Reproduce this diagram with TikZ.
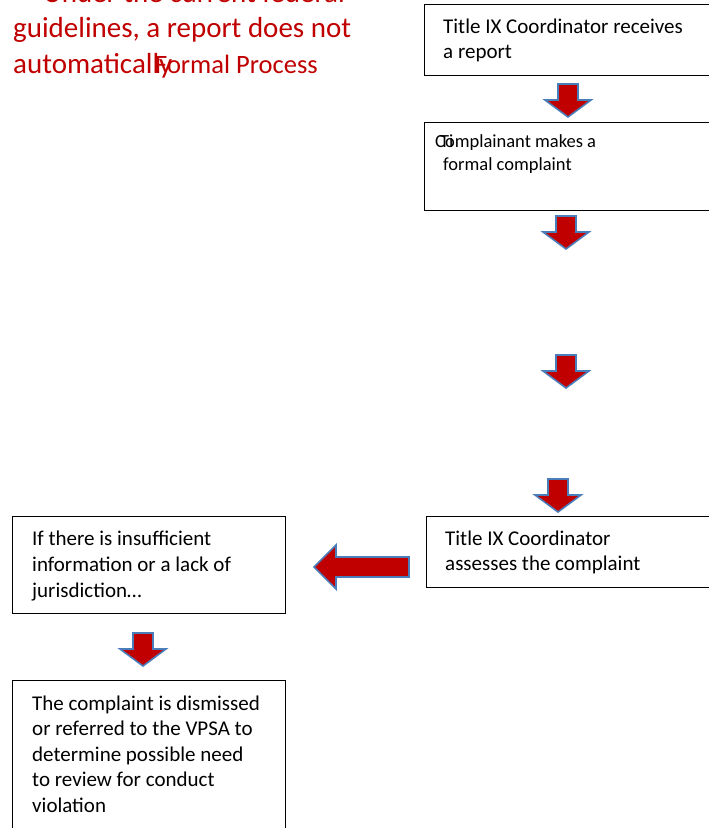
\documentclass[tikz,border=0pt]{standalone}
\usepackage{fontspec}
\setmainfont{Carlito}
\definecolor{tred}{HTML}{C00000}
\definecolor{abord}{HTML}{4A7EBB}
\definecolor{afill}{HTML}{C00000}
\tikzset{
  box/.style={draw=black, line width=1.4pt, fill=white, rectangle, inner sep=0pt, anchor=north west},
  txt/.style={anchor=base west, align=left, inner sep=0pt, font=\fontsize{21}{25}\selectfont},
  txtsmall/.style={anchor=base west, align=left, inner sep=0pt, font=\fontsize{18.5}{23}\selectfont},
  ttl/.style={anchor=base west, inner sep=0pt, text=tred, font=\fontsize{29}{35}\selectfont},
  blockarrow/.style={draw=abord, fill=afill, line width=1.6pt, line join=miter},
  downblock/.pic={\draw[blockarrow] (-10,0) -- (-10,16) -- (-23,16) -- (0,33) -- (23,16) -- (10,16) -- (10,0) -- cycle;},
  leftblock/.pic={\draw[blockarrow] (0,0) -- (22,-22) -- (22,-10) -- (95,-10) -- (95,10) -- (22,10) -- (22,22) -- cycle;}
}
\begin{document}
\begin{tikzpicture}[x=1pt,y=-1pt]
\useasboundingbox (0,0) rectangle (709,828);
% title
\node[ttl] (t1) at (43,2) {Under the current federal};
\node[ttl] (t2) at (13,37) {guidelines, a report does not};
\node[ttl] (t3) at (13,73) {automatically};
\node[ttl, font=\fontsize{26.5}{35}\selectfont] (t4) at (155,73) {Formal Process};
% boxes
\node[box, minimum width=300, minimum height=71] (b1) at (424,4) {};
\node[txt] (b1t) at (443,58) {Title IX Coordinator receives\\a report};
\node[box, minimum width=300, minimum height=88] (b2) at (424,122) {};
\node[txtsmall] (b2t) at (435,147) {Complainant makes a};
\node[txtsmall] (b2x) at (440,147) {Ti};
\node[txtsmall] (b2u) at (443,170) {formal complaint};
\node[box, minimum width=300, minimum height=71] (b3) at (426,516) {};
\node[txt] (b3t) at (445,570) {Title IX Coordinator\\assesses the complaint};
\node[box, minimum width=273, minimum height=97] (b4) at (12,516) {};
\node[txt, font=\fontsize{21}{26}\selectfont] (b4t) at (32,597) {If there is insufficient\\information or a lack of\\jurisdiction\dots};
\node[box, minimum width=273, minimum height=160] (b5) at (12,680) {};
\node[txt, font=\fontsize{21}{25.5}\selectfont] (b5t) at (32,812) {The complaint is dismissed\\or referred to the VPSA to\\determine possible need\\to review for conduct\\violation};
% arrows
\pic at (568,84) {downblock};
\pic at (566,216) {downblock};
\pic at (566,355) {downblock};
\pic at (558,479) {downblock};
\pic at (143,633) {downblock};
\pic at (314,567) {leftblock};
\end{tikzpicture}
\end{document}
